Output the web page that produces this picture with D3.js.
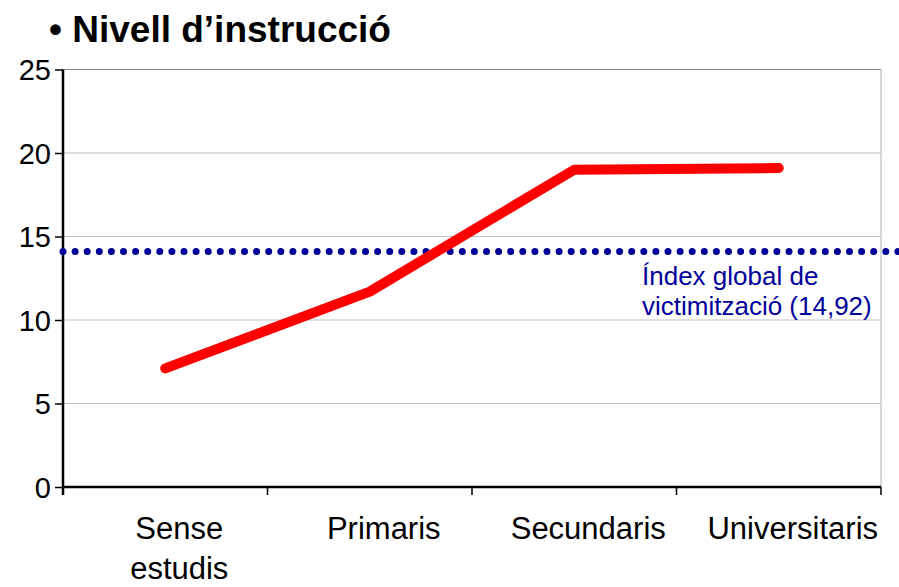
<!DOCTYPE html>
<html>
<head>
<meta charset="utf-8">
<script src="https://cdn.jsdelivr.net/npm/d3@7"></script>
<style>
  html,body{margin:0;padding:0;background:#fff;}
  text{font-family:"Liberation Sans",Arial,sans-serif;}
</style>
</head>
<body>
<div id="chart"></div>
<script>
(function(){
  // data
  const categories=[["Sense","estudis"],["Primaris"],["Secundaris"],["Universitaris"]];
  const values=[7.1,11.7,19.0,19.1];
  const yTicks=[0,5,10,15,20,25];
  const refValue=14.1;   // where the dotted line sits in the picture
  const refLabel=["Índex global de","victimització (14,92)"];
  const title="• Nivell d’instrucció";

  const W=899,H=587;
  const svg=d3.select("#chart").append("svg").attr("width",W).attr("height",H);

  const x0=63,x1=881,yTop=69.5,yBot=487;
  const x=d3.scaleBand().domain(d3.range(categories.length)).range([x0,x1]);
  const y=d3.scaleLinear().domain([0,25]).range([yBot,yTop]);

  svg.append("text").attr("x",49).attr("y",42)
    .attr("font-size",37).attr("font-weight","bold").attr("fill","#000")
    .text(title);

  // gridlines
  svg.append("g").selectAll("line").data(yTicks.filter(d=>d>0)).join("line")
    .attr("x1",x0).attr("x2",x1)
    .attr("y1",d=>y(d)).attr("y2",d=>y(d))
    .attr("stroke",d=>d===25?"#888":"#c0c0c0").attr("stroke-width",1);
  // right border
  svg.append("line").attr("x1",x1).attr("x2",x1).attr("y1",yTop).attr("y2",yBot)
    .attr("stroke","#b0b0b0").attr("stroke-width",1);

  // y axis
  const yAxis=svg.append("g").attr("transform",`translate(${x0},0)`)
    .call(d3.axisLeft(y).tickValues(yTicks).tickSize(8).tickPadding(4));
  yAxis.select(".domain").attr("d",`M0,${yTop}V${yBot+8}`).attr("stroke","#000").attr("stroke-width",2.5);
  yAxis.selectAll(".tick line").attr("stroke","#000").attr("stroke-width",1.5);
  yAxis.selectAll(".tick text").attr("font-size",29).attr("fill","#000")
    .attr("font-family","'Liberation Sans',Arial,sans-serif").attr("dy","0.36em");

  // x axis
  const xAxis=svg.append("g").attr("transform",`translate(0,${yBot})`)
    .call(d3.axisBottom(x).tickSize(0).tickFormat(""));
  xAxis.select(".domain").attr("d",`M${x0},0H${x1}`).attr("stroke","#000").attr("stroke-width",2.5);
  xAxis.selectAll(".tick").remove();
  xAxis.selectAll("line.bt").data(d3.range(1,categories.length+1)).join("line")
    .attr("class","bt")
    .attr("x1",i=>x0+i*x.step()).attr("x2",i=>x0+i*x.step())
    .attr("y1",0).attr("y2",8).attr("stroke","#000").attr("stroke-width",1.5);

  const lbl=svg.append("g").selectAll("text").data(categories).join("text")
    .attr("text-anchor","middle").attr("font-size",31).attr("fill","#000")
    .attr("transform",(d,i)=>`translate(${x(i)+x.bandwidth()/2+14},539)`);
  lbl.selectAll("tspan").data(d=>d).join("tspan")
    .attr("x",0).attr("dy",(d,i)=>i===0?0:40).text(d=>d);

  // reference dotted line
  svg.append("line").attr("x1",x0).attr("x2",W+4)
    .attr("y1",y(refValue)).attr("y2",y(refValue))
    .attr("stroke","#000099").attr("stroke-width",7)
    .attr("stroke-linecap","round").attr("stroke-dasharray","0 12.1");

  svg.append("text").attr("x",642).attr("y",285)
    .attr("font-size",26).attr("fill","#000099")
    .selectAll("tspan").data(refLabel).join("tspan")
    .attr("x",642).attr("dy",(d,i)=>i===0?0:30).text(d=>d);

  // series line
  const line=d3.line().x((d,i)=>x(i)+x.bandwidth()/2).y(d=>y(d));
  svg.append("path").datum(values)
    .attr("fill","none").attr("stroke","#ff0000").attr("stroke-width",10)
    .attr("stroke-linecap","round").attr("stroke-linejoin","round")
    .attr("d",line);
})();
</script>
</body>
</html>
